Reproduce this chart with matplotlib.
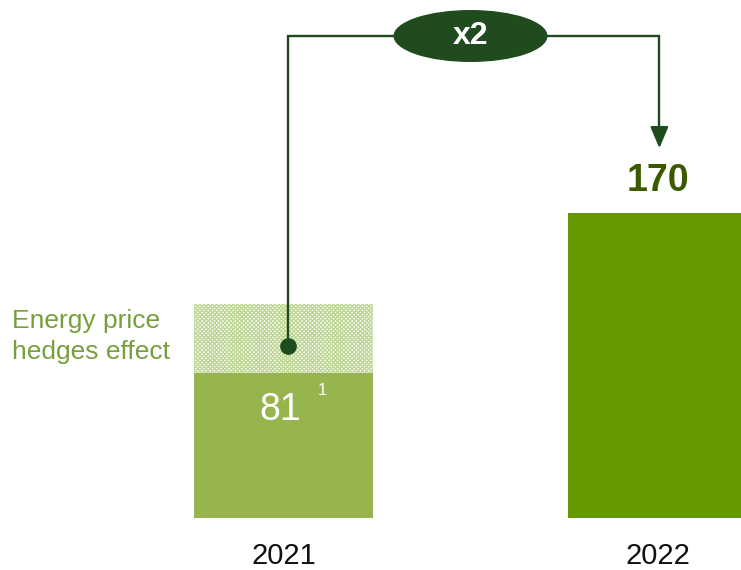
import matplotlib
matplotlib.use("Agg")
import matplotlib.pyplot as plt
from matplotlib.patches import Ellipse

# Data
years = ["2021", "2022"]
values = [81, 170]
hedge_effect = 38          # extra amount on top of 2021 from energy price hedges
value_labels = ["81", "170"]
footnote = "1"
multiplier_label = "x2"
hedge_label = "Energy price\nhedges effect"

# Colours
c_2021 = "#97b54e"
c_2022 = "#669900"
c_hedge = "#bfd796"
c_dark = "#1f4b1f"
c_value = "#3b5a00"
c_hedge_txt = "#77a03c"

plt.rcParams["font.family"] = ["Liberation Sans", "DejaVu Sans"]
plt.rcParams["hatch.linewidth"] = 1.0

fig = plt.figure(figsize=(7.41, 5.70), dpi=100)
ax = fig.add_axes([0, 52 / 570, 1, 518 / 570])
px_x = 374.0
px_y = 1.795
ax.set_xlim(-283.5 / px_x, (741 - 283.5) / px_x)
ax.set_ylim(0, 518 / px_y)
ax.axis("off")

x = [0, 1]
width = 179 / px_x
ax.bar(x, values, width=width, color=[c_2021, c_2022], linewidth=0, zorder=2)
ax.bar(x[0], hedge_effect, bottom=values[0], width=width, facecolor="white",
       edgecolor=c_hedge, hatch="xxxxxxxx", linewidth=0, zorder=1)

# Year labels
for xi, yr in zip(x, years):
    ax.annotate(yr, (xi, 0), xytext=(0, -27), textcoords="offset points",
                ha="center", va="center", fontsize=21, color="#111111")

# Value labels
ax.annotate(value_labels[0], (x[0], values[0]), xytext=(-2, -27), textcoords="offset points",
            ha="center", va="center", fontsize=27, color="white", zorder=3)
ax.annotate(footnote, (x[0], values[0]), xytext=(28, -13), textcoords="offset points",
            ha="center", va="center", fontsize=12, color="white", zorder=3)
ax.annotate(value_labels[1], (x[1], values[1]), xytext=(0, 23), textcoords="offset points",
            ha="center", va="center", fontsize=27, fontweight="bold", color=c_value)

# Hedge effect label
ax.text(-0.726, values[0] + hedge_effect / 2 + 1, hedge_label, ha="left", va="center",
        fontsize=19, color=c_hedge_txt, linespacing=1.35)

# Connector from the 2021 hedged level to the 2022 bar
y_line = (518 - 36) / px_y
x_left = 0.012
x_right = 1.005
dot_y = values[0] + hedge_effect / 2 - 4
ax.plot([x_left, x_left, x_right, x_right], [dot_y, y_line, y_line, (518 - 140) / px_y],
        color=c_dark, lw=1.7, solid_joinstyle="miter", zorder=4)
ax.plot(x_left, dot_y, "o", color=c_dark, ms=11, zorder=5)
ax.annotate("", xy=(x_right, (518 - 151) / px_y), xytext=(x_right, (518 - 128) / px_y),
            arrowprops=dict(arrowstyle="-|>,head_length=1.3,head_width=0.55",
                            color=c_dark, lw=1.7), zorder=5)

ell = Ellipse((0.5, y_line), 154 / px_x, 52 / px_y, facecolor=c_dark, edgecolor="none", zorder=6)
ax.add_patch(ell)
ax.text(0.5, y_line, multiplier_label, ha="center", va="center", fontsize=23,
        fontweight="bold", color="white", zorder=7)

fig.savefig("out.png", dpi=100)
